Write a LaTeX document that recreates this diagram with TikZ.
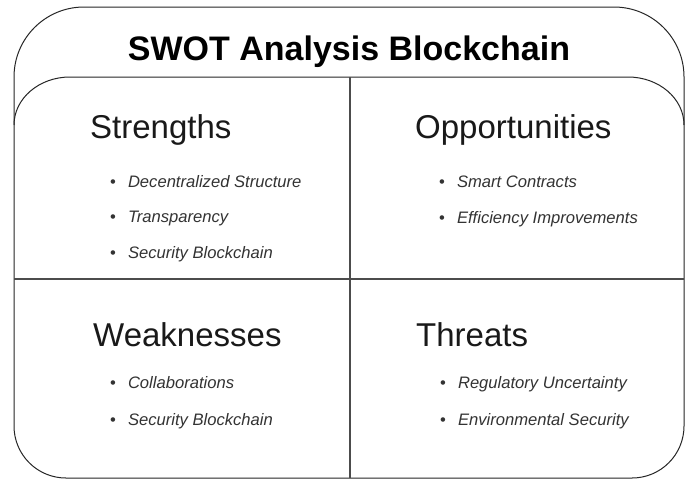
\documentclass[tikz,border=0pt]{standalone}
\usepackage{fontspec}
\setmainfont{Liberation Sans}

\tikzset{
  frame/.style={draw=black!85, line width=1pt},
  divider/.style={draw=black!70, line width=1.3pt},
  heading/.style={anchor=base west, inner sep=0pt, text=black!90, font=\fontsize{33}{38}\selectfont},
  entry/.style={anchor=base west, inner sep=0pt, text=black!80, font=\fontsize{16.6}{20}\selectfont}
}

\begin{document}
\begin{tikzpicture}[x=1pt, y=-1pt]
        \useasboundingbox (0, 0) rectangle (692, 480);

        % outer box and the header line
        \draw[frame, fill=white] (14, 426) -- (14, 77) arc[start angle=180, end angle=270, radius=70]
            -- (614, 7) arc[start angle=270, end angle=360, radius=70]
            -- (684, 426) arc[start angle=0, end angle=90, radius=52]
            -- (66, 478) arc[start angle=90, end angle=180, radius=52] -- cycle;
        \draw[frame] (14, 125) arc[start angle=180, end angle=270, x radius=56, y radius=48]
            -- (628, 77) arc[start angle=270, end angle=360, x radius=56, y radius=48];

        % quadrants
        \draw[divider] (350, 77) -- (350, 478);
        \draw[divider] (14, 279) -- (684, 279);

        \node[anchor=base, inner sep=0pt, font=\bfseries\fontsize{34}{40}\selectfont] (title) at (349, 60) {SWOT Analysis Blockchain};

        \node[heading] (strengths) at (90, 138) {Strengths};
        \node[entry] (s1) at (110, 187) {\textbullet\hspace{12pt}\textit{Decentralized Structure}};
        \node[entry] (s2) at (110, 222) {\textbullet\hspace{12pt}\textit{Transparency}};
        \node[entry] (s3) at (110, 258) {\textbullet\hspace{12pt}\textit{Security Blockchain}};

        \node[heading] (opportunities) at (415, 138) {Opportunities};
        \node[entry] (o1) at (439, 187) {\textbullet\hspace{12pt}\textit{Smart Contracts}};
        \node[entry] (o2) at (439, 223) {\textbullet\hspace{12pt}\textit{Efficiency Improvements}};

        \node[heading] (weaknesses) at (93, 346) {Weaknesses};
        \node[entry] (w1) at (110, 388) {\textbullet\hspace{12pt}\textit{Collaborations}};
        \node[entry] (w2) at (110, 425) {\textbullet\hspace{12pt}\textit{Security Blockchain}};

        \node[heading] (threats) at (416, 346) {Threats};
        \node[entry] (t1) at (440, 388) {\textbullet\hspace{12pt}\textit{Regulatory Uncertainty}};
        \node[entry] (t2) at (440, 425) {\textbullet\hspace{12pt}\textit{Environmental Security}};
    \end{tikzpicture}
\end{document}
